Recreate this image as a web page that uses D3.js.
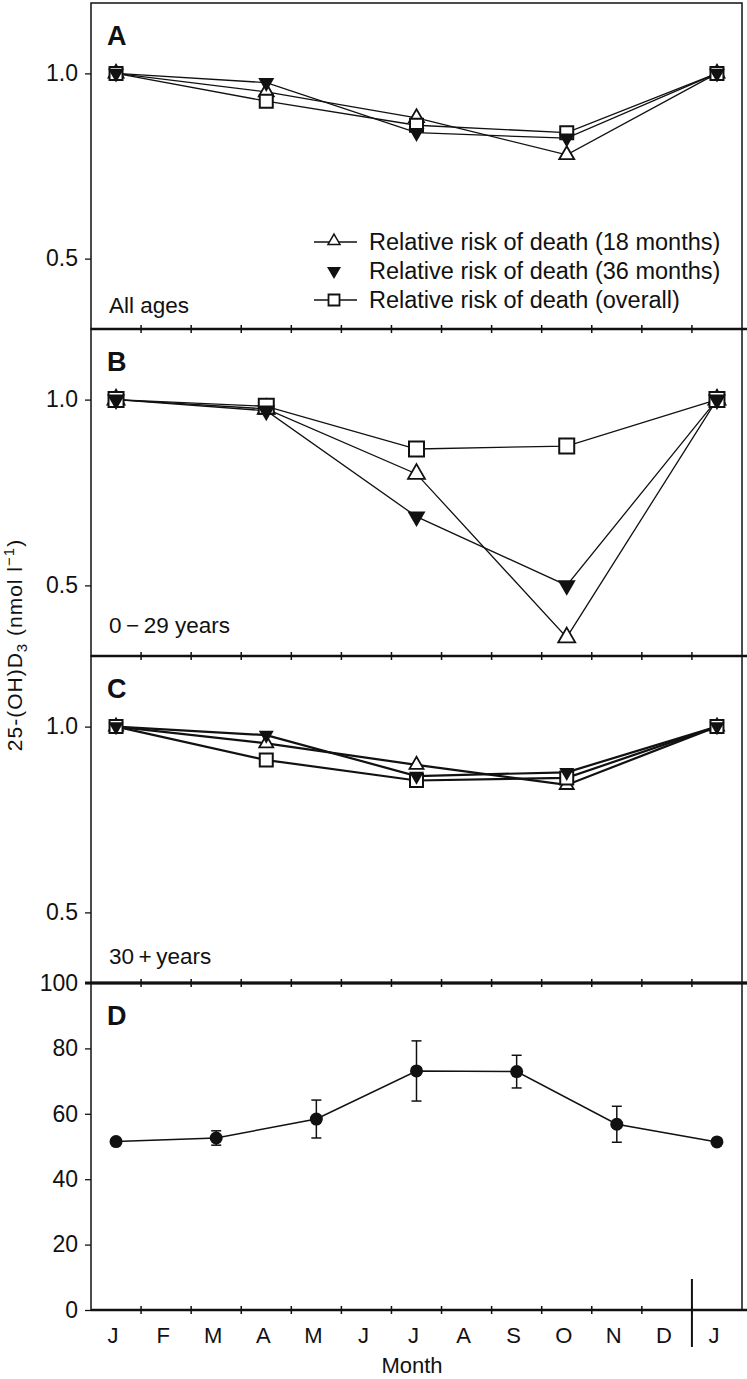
<!DOCTYPE html>
<html>
<head>
<meta charset="utf-8">
<script src="https://cdn.jsdelivr.net/npm/d3@7"></script>
<style>
  body { margin: 0; background: #fff; }
  svg { display: block; }
  text { font-family: "Liberation Sans", Arial, sans-serif; fill: #111; }
</style>
</head>
<body>
<div id="chart"></div>
<script>
// month labels along the bottom axis (Jan .. Dec, then Jan again)
var months = ["J", "F", "M", "A", "M", "J", "J", "A", "S", "O", "N", "D", "J"];

// relative risk of death, read at Jan, Apr, Jul, Oct, Jan
var riskMonths = [0, 3, 6, 9, 12];
var allAges18 = [1.0, 0.950, 0.880, 0.780, 1.0];
var allAges36 = [1.0, 0.975, 0.840, 0.825, 1.0];
var allAgesOverall = [1.0, 0.925, 0.860, 0.840, 1.0];
var young18 = [1.0, 0.975, 0.800, 0.360, 1.0];
var young36 = [1.0, 0.970, 0.685, 0.500, 1.0];
var youngOverall = [1.0, 0.982, 0.867, 0.875, 1.0];
var older18 = [1.0, 0.955, 0.897, 0.843, 1.0];
var older36 = [1.0, 0.977, 0.867, 0.877, 1.0];
var olderOverall = [1.0, 0.910, 0.855, 0.862, 1.0];

// 25-(OH)D3, nmol/l, mean and error bar half-width
var vitMonths = [0, 2, 4, 6, 8, 10, 12];
var vitMean = [51.5, 52.6, 58.4, 73.1, 72.9, 56.8, 51.4];
var vitErr = [0, 2.2, 5.8, 9.2, 5.0, 5.5, 0];

var riskTicks = [0.5, 1.0];
var vitTicks = [0, 20, 40, 60, 80, 100];

var legendLabels = ["Relative risk of death (18 months)",
                    "Relative risk of death (36 months)",
                    "Relative risk of death (overall)"];

var W = 747, H = 1379;
var svg = d3.select("#chart").append("svg")
    .attr("width", W).attr("height", H);

var x = d3.scaleLinear().domain([0, 13]).range([91, 742]);
var panelTops = [3, 329, 656, 983], bottomY = 1310;

function pts(vals) {
    return vals.map(function(v, i) { return { m: riskMonths[i], v: v }; });
}

var riskPanels = [
    { id: "A", sub: "All ages", subY: 313, s18: allAges18, s36: allAges36, sov: allAgesOverall,
      tri: 15, sq: 13, lw: 1.3 },
    { id: "B", sub: "0\u2009\u2212\u200929 years", subY: 633, s18: young18, s36: young36, sov: youngOverall,
      tri: 17, sq: 15, lw: 1.3 },
    { id: "C", sub: "30\u2009+\u2009years", subY: 964, s18: older18, s36: older36, sov: olderOverall,
      tri: 14, sq: 13, lw: 2.2 }
];

function triPath(side) {
    return d3.symbol().type(d3.symbolTriangle).size(side * side * Math.sqrt(3) / 4)();
}
function sqPath(side) {
    return d3.symbol().type(d3.symbolSquare).size(side * side)();
}

function drawBottomAxis(yPos) {
    svg.append("line").attr("x1", x(0)).attr("x2", W)
        .attr("y1", yPos).attr("y2", yPos)
        .attr("stroke", "#111").attr("stroke-width", 2.5);
    svg.append("g").selectAll("line").data(d3.range(1, 13)).join("line")
        .attr("x1", function(d) { return x(d); }).attr("x2", function(d) { return x(d); })
        .attr("y1", yPos - 4).attr("y2", yPos + 4)
        .attr("stroke", "#111").attr("stroke-width", 1.5);
}

riskPanels.forEach(function(p, k) {
    var top = panelTops[k], bot = panelTops[k + 1];
    var y = d3.scaleLinear().domain([0.31, 1.19]).range([bot, top]);
    var g = svg.append("g");

    // frame
    g.append("rect").attr("x", x(0)).attr("y", top)
        .attr("width", x(13) - x(0)).attr("height", bot - top)
        .attr("fill", "none").attr("stroke", "#111").attr("stroke-width", 1.5);

    // left ticks
    var yAxis = d3.axisLeft(y).tickValues(riskTicks).tickSize(6).tickPadding(7)
        .tickFormat(d3.format(".1f"));
    var ax = g.append("g").attr("transform", "translate(" + x(0) + ",0)").call(yAxis);
    ax.select(".domain").remove();
    ax.selectAll("line").attr("stroke", "#111").attr("stroke-width", 1.3);
    ax.selectAll("text").attr("font-size", 23).attr("fill", "#111")
        .attr("font-family", "'Liberation Sans', Arial, sans-serif");

    var line = d3.line().x(function(d) { return x(d.m + 0.5); })
        .y(function(d) { return y(d.v); });

    [p.s18, p.sov, p.s36].forEach(function(s) {
        g.append("path").datum(pts(s)).attr("d", line)
            .attr("fill", "none").attr("stroke", "#111").attr("stroke-width", p.lw);
    });

    g.append("g").selectAll("path").data(pts(p.s18)).join("path")
        .attr("d", triPath(p.tri))
        .attr("transform", function(d) { return "translate(" + x(d.m + 0.5) + "," + y(d.v) + ")"; })
        .attr("fill", "#fff").attr("stroke", "#111").attr("stroke-width", 1.8);
    g.append("g").selectAll("path").data(pts(p.sov)).join("path")
        .attr("d", sqPath(p.sq))
        .attr("transform", function(d) { return "translate(" + x(d.m + 0.5) + "," + y(d.v) + ")"; })
        .attr("fill", "#fff").attr("stroke", "#111").attr("stroke-width", 2);
    g.append("g").selectAll("path").data(pts(p.s36)).join("path")
        .attr("d", triPath(p.tri + 1))
        .attr("transform", function(d) { return "translate(" + x(d.m + 0.5) + "," + y(d.v) + ") rotate(180)"; })
        .attr("fill", "#111");

    g.append("text").attr("x", 107).attr("y", top + 42)
        .attr("font-size", 27).attr("font-weight", "bold").text(p.id);
    g.append("text").attr("x", 109).attr("y", p.subY)
        .attr("font-size", 22.5).text(p.sub);

    drawBottomAxis(bot);
});

// legend in panel A
var leg = svg.append("g");
var legY = [242, 271, 300];
leg.append("line").attr("x1", 314).attr("x2", 357).attr("y1", legY[0]).attr("y2", legY[0])
    .attr("stroke", "#111").attr("stroke-width", 1.3);
leg.append("line").attr("x1", 314).attr("x2", 357).attr("y1", legY[2]).attr("y2", legY[2])
    .attr("stroke", "#111").attr("stroke-width", 1.3);
leg.append("path").attr("d", triPath(12))
    .attr("transform", "translate(334," + (legY[0] - 1) + ")")
    .attr("fill", "#fff").attr("stroke", "#111").attr("stroke-width", 1.5);
leg.append("path").attr("d", triPath(14))
    .attr("transform", "translate(334," + legY[1] + ") rotate(180)")
    .attr("fill", "#111");
leg.append("path").attr("d", sqPath(11))
    .attr("transform", "translate(334," + legY[2] + ")")
    .attr("fill", "#fff").attr("stroke", "#111").attr("stroke-width", 1.8);
leg.selectAll("text").data(legendLabels).join("text")
    .attr("x", 369).attr("y", function(d, i) { return legY[i]; })
    .attr("dy", "0.36em").attr("font-size", 23.5).text(function(d) { return d; });

// panel D: 25-(OH)D3 by month
(function() {
    var top = panelTops[3], bot = bottomY;
    var y = d3.scaleLinear().domain([0, 100]).range([bot, top]);
    var g = svg.append("g");

    g.append("line").attr("x1", x(0)).attr("x2", x(0)).attr("y1", top).attr("y2", bot)
        .attr("stroke", "#111").attr("stroke-width", 1.5);
    g.append("line").attr("x1", x(13)).attr("x2", x(13)).attr("y1", top).attr("y2", bot)
        .attr("stroke", "#111").attr("stroke-width", 1.5);
    g.append("line").attr("x1", x(0) - 6).attr("x2", W).attr("y1", top).attr("y2", top)
        .attr("stroke", "#111").attr("stroke-width", 3);

    var yAxis = d3.axisLeft(y).tickValues(vitTicks).tickSize(6).tickPadding(7);
    var ax = g.append("g").attr("transform", "translate(" + x(0) + ",0)").call(yAxis);
    ax.select(".domain").remove();
    ax.selectAll("line").attr("stroke", "#111").attr("stroke-width", 1.3);
    ax.selectAll("text").attr("font-size", 23).attr("fill", "#111")
        .attr("font-family", "'Liberation Sans', Arial, sans-serif");

    drawBottomAxis(bot);

    // year break marker
    g.append("line").attr("x1", x(12)).attr("x2", x(12)).attr("y1", 1279).attr("y2", 1347)
        .attr("stroke", "#111").attr("stroke-width", 2);

    var data = vitMean.map(function(v, i) { return { m: vitMonths[i], v: v, e: vitErr[i] }; });
    var line = d3.line().x(function(d) { return x(d.m + 0.5); }).y(function(d) { return y(d.v); });
    g.append("path").datum(data).attr("d", line)
        .attr("fill", "none").attr("stroke", "#111").attr("stroke-width", 1.5);

    var eb = g.append("g").selectAll("g").data(data.filter(function(d) { return d.e > 0; })).join("g")
        .attr("stroke", "#111").attr("stroke-width", 1.5);
    eb.append("line")
        .attr("x1", function(d) { return x(d.m + 0.5); }).attr("x2", function(d) { return x(d.m + 0.5); })
        .attr("y1", function(d) { return y(d.v - d.e); }).attr("y2", function(d) { return y(d.v + d.e); });
    eb.append("line")
        .attr("x1", function(d) { return x(d.m + 0.5) - 5; }).attr("x2", function(d) { return x(d.m + 0.5) + 5; })
        .attr("y1", function(d) { return y(d.v + d.e); }).attr("y2", function(d) { return y(d.v + d.e); });
    eb.append("line")
        .attr("x1", function(d) { return x(d.m + 0.5) - 5; }).attr("x2", function(d) { return x(d.m + 0.5) + 5; })
        .attr("y1", function(d) { return y(d.v - d.e); }).attr("y2", function(d) { return y(d.v - d.e); });

    g.append("g").selectAll("circle").data(data).join("circle")
        .attr("cx", function(d) { return x(d.m + 0.5); }).attr("cy", function(d) { return y(d.v); })
        .attr("r", 6.5).attr("fill", "#111");

    g.append("text").attr("x", 107).attr("y", top + 42)
        .attr("font-size", 27).attr("font-weight", "bold").text("D");
})();

// month labels and axis titles
svg.append("g").selectAll("text").data(months).join("text")
    .attr("x", function(d, i) { return x(i + 0.5) - 3; }).attr("y", 1343)
    .attr("text-anchor", "middle").attr("font-size", 22).text(function(d) { return d; });

svg.append("text").attr("x", 412).attr("y", 1373).attr("text-anchor", "middle")
    .attr("font-size", 22).text("Month");

var yt = svg.append("text").attr("transform", "translate(22,645) rotate(-90)")
    .attr("text-anchor", "middle").attr("font-size", 21).attr("letter-spacing", 1);
yt.append("tspan").text("25-(OH)D");
yt.append("tspan").attr("font-size", 15).attr("dy", 5).text("3");
yt.append("tspan").attr("dy", -5).text(" (nmol l");
yt.append("tspan").attr("font-size", 15).attr("dy", -8).text("\u22121");
yt.append("tspan").attr("dy", 8).text(")");
</script>
</body>
</html>
